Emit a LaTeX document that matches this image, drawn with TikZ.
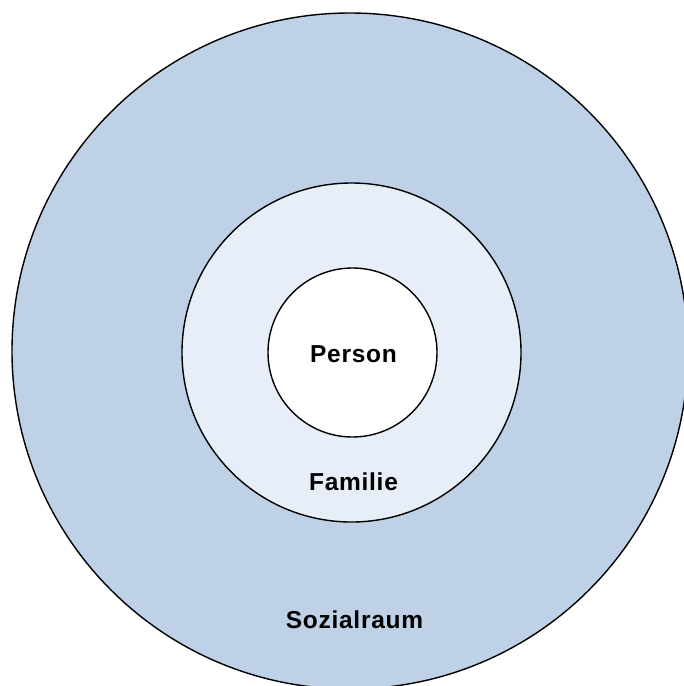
\documentclass[tikz,border=0pt]{standalone}
\usepackage{fontspec}
\setmainfont{Liberation Sans}
\newfontfamily\lblfont[LetterSpace=3]{Liberation Sans}
\definecolor{outerblue}{RGB}{191,209,230}
\definecolor{midblue}{RGB}{231,238,247}
\begin{document}
\begin{tikzpicture}[x=1pt,y=-1pt,
  ring/.style={circle,draw=black,line width=1.4pt,inner sep=0pt},
  lbl/.style={font=\lblfont\fontsize{24.5}{28}\selectfont\bfseries,inner sep=0pt}]
\useasboundingbox (0,0) rectangle (684,686);
\clip (0,0) rectangle (684,686);
\node[ring,fill=outerblue,minimum size=676pt] (sozial) at (350,351) {};
\node[ring,fill=midblue,minimum size=339pt] (familie) at (351.5,352.5) {};
\node[ring,fill=white,minimum size=169pt] (person) at (352.5,352.5) {};
\node[lbl] (tperson) at (353.5,354) {Person};
\node[lbl] (tfamilie) at (353.5,482) {Familie};
\node[lbl] (tsozial) at (354.5,620) {Sozialraum};
\end{tikzpicture}
\end{document}
